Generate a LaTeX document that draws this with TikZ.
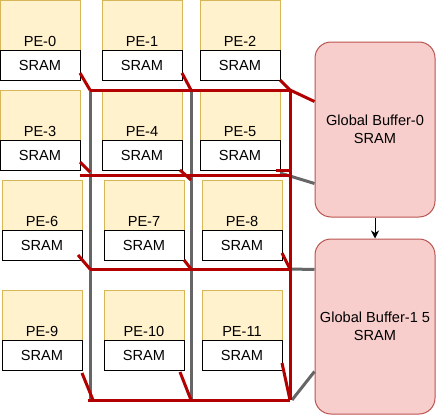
\documentclass[tikz,border=0pt]{standalone}
\usepackage{fontspec}
\setmainfont{Liberation Sans}
\usetikzlibrary{positioning, arrows, arrows.meta}
\definecolor{peyellow}{HTML}{FFF2CC}
\definecolor{peborder}{HTML}{D6B656}
\definecolor{gbpink}{HTML}{F8CECC}
\definecolor{gbborder}{HTML}{B85450}
\definecolor{busred}{HTML}{B20000}
\definecolor{busgray}{HTML}{666666}
\tikzset{x=1pt, y=-1pt, >={Stealth[length=8pt, width=8pt, inset=2.5pt]}, node distance=0pt,
    pe/.style={draw=peborder, fill=peyellow, line width=1pt, minimum width=80pt, inner sep=0pt, outer sep=0pt,
        text height=46pt, text depth=4pt, anchor=north west, font=\fontsize{14.6}{17}\selectfont},
    sram/.style={draw=black, fill=white, line width=1pt, minimum width=80pt, minimum height=30pt, inner sep=0pt,
        outer sep=0pt, text height=11pt, text depth=1pt, font=\fontsize{14.6}{17}\selectfont},
    buffer/.style={draw=gbborder, fill=gbpink, line width=1pt, rounded corners=16pt, minimum width=120pt,
        minimum height=175pt, align=center, font=\fontsize{14.6}{18}\selectfont},
    redbus/.style={draw=busred, line width=3pt},
    graybus/.style={draw=busgray, line width=3pt}}

\begin{document}
\begin{tikzpicture}
    \useasboundingbox (0,0) rectangle (436,415);
    % processing elements
    \node[pe] (pe0) at (0,0) {PE-0};
    \node[pe, right=22pt of pe0] (pe1) {PE-1};
    \node[pe, right=18pt of pe1] (pe2) {PE-2};
    \node[pe] (pe3) at (0,90) {PE-3};
    \node[pe, right=22pt of pe3] (pe4) {PE-4};
    \node[pe, right=18pt of pe4] (pe5) {PE-5};
    \node[pe] (pe6) at (2,180) {PE-6};
    \node[pe, right=22pt of pe6] (pe7) {PE-7};
    \node[pe, right=18pt of pe7] (pe8) {PE-8};
    \node[pe] (pe9) at (2,290) {PE-9};
    \node[pe, right=22pt of pe9] (pe10) {PE-10};
    \node[pe, right=18pt of pe10] (pe11) {PE-11};
    \foreach \i in {0,...,11}
        \node[sram, below=0pt of pe\i] (sram\i) {SRAM};

    % global buffers
    \node[buffer] (gb0) at (375,129.5) {Global Buffer-0\\SRAM};
    \node[buffer] (gb1) at (375,326.5) {Global Buffer-1 5\\SRAM};
    \draw[->, line width=1pt] (gb0) -- (gb1);

    % bus grid
    \coordinate (a0) at (90,90);  \coordinate (b0) at (191,90);  \coordinate (c0) at (290,90);
    \coordinate (s1) at (80,175); \coordinate (b1) at (191,175); \coordinate (c1) at (290,175);
    \coordinate (a2) at (90,269); \coordinate (b2) at (191,269); \coordinate (c2) at (290,269);
    \coordinate (a3) at (90,400); \coordinate (b3) at (191,400); \coordinate (c3) at (290,400);

    \draw[graybus] (a0) -- (a3) (b0) -- (b3);
    \draw[graybus] ([yshift=-3pt]sram5.south east) -- ([yshift=-54pt]gb0.west);
    \draw[graybus] (c2) -- ([yshift=57pt]gb1.west);
    \draw[graybus] ([xshift=2pt]c3) -- ([yshift=-45pt]gb1.west);

    \draw[redbus] (a0) -- (c0) -- (c3) (s1) -- (c1) (a2) -- (c2) ([xshift=-2pt]a3) -- (c3);
    \draw[redbus] ([yshift=7pt]sram0.south east) -- (a0);
    \draw[redbus] ([yshift=7pt]sram1.south east) -- (b0);
    \draw[redbus] (sram2.south east) -- (c0) -- ([yshift=28pt]gb0.west);
    \draw[redbus] ([yshift=8pt]sram3.south east) -- ([yshift=3pt]s1 -| a0);
    \draw[redbus] ([xshift=-2pt]sram4.south east) -- ([yshift=-5pt]b1);
    \draw[redbus] ([xshift=-4pt]sram5.south east) -- (sram5.south east -| c1);
    \draw[redbus] ([xshift=-4pt, yshift=5pt]sram6.south east) -- (a2);
    \draw[redbus] (sram7.south east) -- (b2);
    \draw[redbus] ([yshift=7pt]sram8.south east) -- (c2);
    \draw[redbus] ([yshift=-3pt]sram9.south east) -- ([xshift=3pt]a3);
    \draw[redbus] ([xshift=-4pt, yshift=-2pt]sram10.south east) -- (b3);
    \draw[redbus] ([yshift=7pt]sram11.south east) -- (c3);
\end{tikzpicture}
\end{document}
